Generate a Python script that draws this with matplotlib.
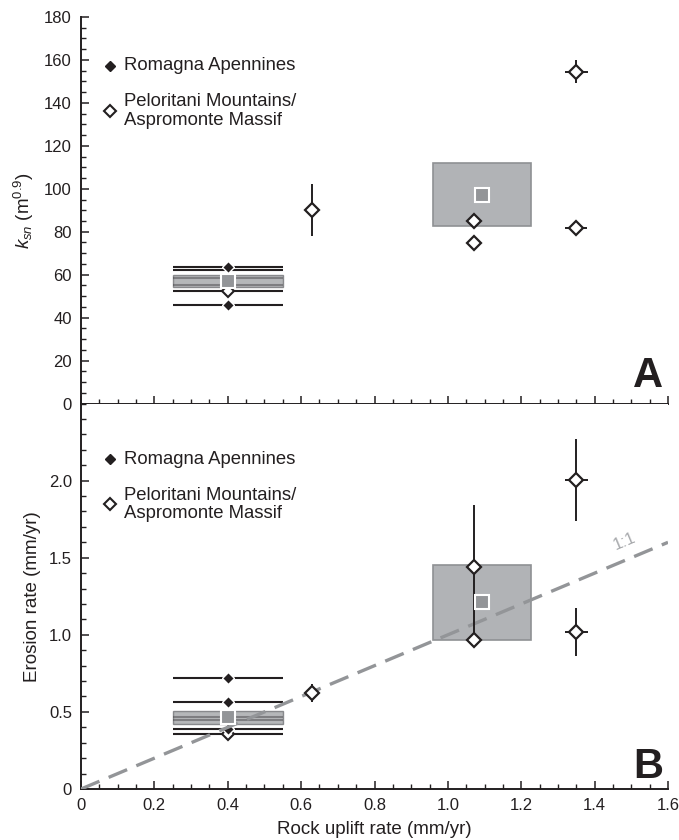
import numpy as np
import matplotlib
matplotlib.use('Agg')
import matplotlib.pyplot as plt
from matplotlib.patches import Rectangle
from matplotlib.ticker import MultipleLocator, FuncFormatter

plt.rcParams['font.family'] = ['Liberation Sans', 'DejaVu Sans']
plt.rcParams['mathtext.fontset'] = 'custom'
plt.rcParams['mathtext.rm'] = 'Liberation Sans'
plt.rcParams['mathtext.it'] = 'Liberation Sans:italic'

# Romagna Apennines (all at the same uplift rate)
rom_uplift = 0.4
rom_uplift_err = 0.15
ksn_rom_solid = [63.5, 45.9]
ksn_rom_open = [52.4]
ksn_rom_hidden = [62.3, 58.3, 55.2]
ksn_rom_mean = 57.2
ksn_rom_band = [54.4, 59.9]
ero_rom_solid = [0.719, 0.567, 0.388]
ero_rom_open = [0.355]
ero_rom_hidden = [0.466, 0.448]
ero_rom_mean = 0.466
ero_rom_band = [0.422, 0.508]

# Peloritani Mountains / Aspromonte Massif
pel_uplift = [0.63, 1.07, 1.07, 1.35, 1.35]
pel_uplift_err_ksn = [0, 0, 0, 0.032, 0.03]
pel_ksn = [90.1, 85.0, 74.9, 154.5, 81.6]
pel_ksn_err = [12.0, 0, 0, 5.4, 0]
pel_uplift_err_ero = [0.018, 0, 0, 0.032, 0.032]
pel_ero = [0.621, 1.44, 0.967, 2.006, 1.017]
pel_ero_err_lo = [0.058, 0.43, 0, 0.266, 0.153]
pel_ero_err_hi = [0.058, 0.40, 0, 0.264, 0.156]
pel_uplift_mean = 1.094
pel_uplift_range = [0.96, 1.226]
pel_ksn_mean = 97.1
pel_ksn_range = [82.8, 111.9]
pel_ero_mean = 1.21
pel_ero_range = [0.967, 1.45]

dark = '#231f20'
box_face = '#b1b3b6'
box_edge = '#8f9194'
mean_face = '#939598'

fig = plt.figure(figsize=(6.79, 8.40), dpi=100)
ax1 = fig.add_axes([0.1193, 0.5196, 0.8645, 0.4602])
ax2 = fig.add_axes([0.1193, 0.0607, 0.8645, 0.4589])


def style_axis(ax, ymax, ymajor, yminor, yfmt):
    ax.set_xlim(0, 1.6)
    ax.set_ylim(0, ymax)
    for s in ['top', 'right']:
        ax.spines[s].set_visible(False)
    for s in ['left', 'bottom']:
        ax.spines[s].set_linewidth(1.4)
        ax.spines[s].set_color(dark)
    ax.xaxis.set_major_locator(MultipleLocator(0.2))
    ax.xaxis.set_minor_locator(MultipleLocator(0.05))
    ax.yaxis.set_major_locator(MultipleLocator(ymajor))
    ax.yaxis.set_minor_locator(MultipleLocator(yminor))
    ax.yaxis.set_major_formatter(FuncFormatter(yfmt))
    ax.xaxis.set_major_formatter(FuncFormatter(lambda v, p: '0' if v == 0 else '%.1f' % v))
    ax.tick_params(which='major', direction='in', length=6, width=1.1, color=dark,
                   labelsize=12, pad=6.5, labelcolor=dark)
    ax.tick_params(which='minor', direction='in', length=3.5, width=1.0, color=dark)


style_axis(ax1, 180, 20, 5, lambda v, p: '%d' % v)
style_axis(ax2, 2.5, 0.5, 0.1, lambda v, p: '0' if v == 0 else '%.1f' % v)
ax2.set_yticks([0, 0.5, 1.0, 1.5, 2.0])
ax1.tick_params(axis='x', labelbottom=False)


def draw_panel(ax, rom_solid, rom_open, rom_hidden, rom_mean, rom_band,
               pel_y, pel_xerr, pel_yerr, p_mean, p_range):
    # Peloritani mean box
    ax.add_patch(Rectangle((pel_uplift_range[0], p_range[0]),
                           pel_uplift_range[1] - pel_uplift_range[0],
                           p_range[1] - p_range[0],
                           facecolor=box_face, edgecolor=box_edge, lw=1.2, zorder=1))
    # Romagna samples
    allr = list(rom_hidden) + list(rom_open) + list(rom_solid)
    ax.errorbar([rom_uplift] * len(allr), allr, xerr=rom_uplift_err, fmt='none',
                ecolor=dark, elinewidth=1.5, capsize=0, zorder=2)
    ax.plot([rom_uplift] * len(rom_open), rom_open, 'D', ms=5.8, mfc='white',
            mec=dark, mew=1.5, zorder=2.2)
    ax.plot([rom_uplift] * len(rom_solid), rom_solid, 'D', ms=6.6, mfc=dark,
            mec='white', mew=1.0, zorder=2.4)
    # Romagna mean band
    ax.add_patch(Rectangle((rom_uplift - rom_uplift_err, rom_band[0]),
                           2 * rom_uplift_err, rom_band[1] - rom_band[0],
                           facecolor='#9d9fa2', edgecolor='#6d6e71', alpha=0.75,
                           lw=1.0, zorder=3))
    # Peloritani samples
    ax.errorbar(pel_uplift, pel_y, xerr=pel_xerr, yerr=pel_yerr, fmt='none',
                ecolor=dark, elinewidth=1.4, capsize=0, zorder=4)
    ax.plot(pel_uplift, pel_y, 'D', ms=7.4, mfc='white', mec=dark, mew=1.6,
            zorder=5, ls='none')
    # group means
    ax.plot([rom_uplift, pel_uplift_mean], [rom_mean, p_mean], 's', ms=9.5,
            mfc=mean_face, mec='white', mew=1.5, zorder=6, ls='none')


draw_panel(ax1, ksn_rom_solid, ksn_rom_open, ksn_rom_hidden, ksn_rom_mean,
           ksn_rom_band, pel_ksn, pel_uplift_err_ksn, pel_ksn_err,
           pel_ksn_mean, pel_ksn_range)
draw_panel(ax2, ero_rom_solid, ero_rom_open, ero_rom_hidden, ero_rom_mean,
           ero_rom_band, pel_ero, pel_uplift_err_ero,
           [pel_ero_err_lo, pel_ero_err_hi], pel_ero_mean, pel_ero_range)

# 1:1 line
one = np.array([0, 1.6])
ax2.plot(one, one, color=mean_face, lw=2.4, dashes=(6, 3), zorder=3.5)
p0 = ax2.transData.transform((0, 0))
p1 = ax2.transData.transform((1.6, 1.6))
ang = np.degrees(np.arctan2(p1[1] - p0[1], p1[0] - p0[0]))
ax2.text(1.49, 1.56, '1:1', rotation=ang, rotation_mode='anchor', ha='center',
         va='bottom', color='#a7a9ac', fontsize=12)

# legends
for ax, yf, yo in [(ax1, 0.874, 0.757), (ax2, 0.856, 0.7385)]:
    ax.plot([0.0494], [yf], 'D', ms=4.8, mfc=dark, mec=dark,
            transform=ax.transAxes, clip_on=False)
    ax.plot([0.0494], [yo], 'D', ms=6.6, mfc='white', mec=dark, mew=1.5,
            transform=ax.transAxes, clip_on=False)
    ax.text(0.0735, yf, 'Romagna Apennines', transform=ax.transAxes,
            ha='left', va='center', fontsize=13.3, color=dark)
    ax.text(0.0735, yo, 'Peloritani Mountains/\nAspromonte Massif',
            transform=ax.transAxes, ha='left', va='center', fontsize=13.3,
            color=dark, linespacing=1.12)

ax1.text(0.9915, 0.0435, 'A', transform=ax1.transAxes, ha='right', va='baseline',
         fontsize=30, fontweight='bold', color=dark)
ax2.text(0.9915, 0.0285, 'B', transform=ax2.transAxes, ha='right', va='baseline',
         fontsize=30, fontweight='bold', color=dark)

ax1.set_ylabel(r'$k_{sn}$ (m$^{0.9}$)', fontsize=13.5, color=dark, labelpad=6)
ax2.set_ylabel('Erosion rate (mm/yr)', fontsize=13.5, color=dark, labelpad=6)
ax2.set_xlabel('Rock uplift rate (mm/yr)', fontsize=13.5, color=dark, labelpad=6)
fig.align_ylabels([ax1, ax2])

fig.savefig('out.png', dpi=100)
